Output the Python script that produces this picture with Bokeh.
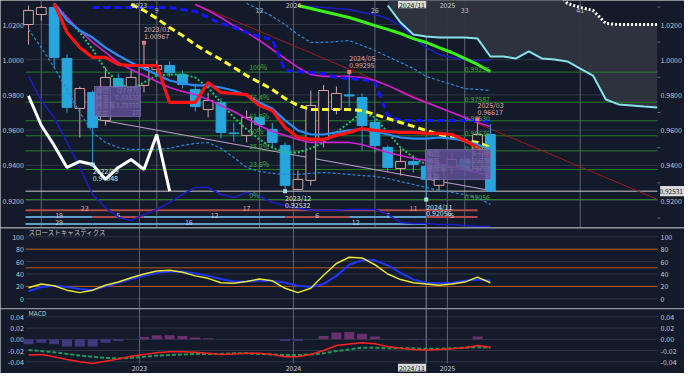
from bokeh.plotting import figure
from bokeh.layouts import column
from bokeh.models import Range1d, BoxAnnotation
from bokeh.core.properties import value
from bokeh.embed import file_html
from bokeh.resources import INLINE

# ---------------- data ----------------
months = ["2022/04", "2022/05", "2022/06", "2022/07", "2022/08", "2022/09", "2022/10", "2022/11", "2022/12",
          "2023/01", "2023/02", "2023/03", "2023/04", "2023/05", "2023/06", "2023/07", "2023/08", "2023/09",
          "2023/10", "2023/11", "2023/12", "2024/01", "2024/02", "2024/03", "2024/04", "2024/05", "2024/06",
          "2024/07", "2024/08", "2024/09", "2024/10", "2024/11", "2024/12", "2025/01", "2025/02", "2025/03",
          "2025/04"]
future_months = ["2025/05", "2025/06", "2025/07", "2025/08", "2025/09", "2025/10", "2025/11", "2025/12",
                 "2026/01", "2026/02", "2026/03", "2026/04", "2026/05"]

opens = [1.0200, 1.0257, 1.0297, 1.0007, 0.9723, 0.9814, 0.9655, 0.9893, 0.9842, 0.9854, 0.9944, 0.9967,
         0.9916, 0.9831, 0.9717, 0.9757, 0.9584, 0.9570, 0.9672, 0.9604, 0.9513, 0.9263, 0.9314, 0.9547,
         0.9717, 0.9800, 0.9785, 0.9643, 0.9501, 0.9382, 0.9422, 0.9393, 0.9286, 0.9388, 0.9433, 0.9382,
         0.9575]
highs = [1.0308, 1.0308, 1.0308, 1.0030, 0.9848, 0.9825, 0.9956, 0.9922, 0.9939, 1.00967, 0.9996, 0.9990,
         0.9939, 0.9865, 0.9814, 0.9780, 0.9643, 0.9712, 0.9689, 0.9640, 0.9530, 0.9371, 0.9825, 0.9856,
         0.9848, 0.99295, 0.9808, 0.9666, 0.9513, 0.9496, 0.9456, 0.9428, 0.9405, 0.9473, 0.9456, 0.96617,
         0.9634]
lows = [1.0086, 1.0223, 0.9950, 0.9700, 0.9558, 0.94048, 0.9626, 0.9808, 0.9797, 0.9814, 0.9905, 0.9905,
        0.9836, 0.9706, 0.9672, 0.9552, 0.9535, 0.9530, 0.9598, 0.9496, 0.92532, 0.9257, 0.9286, 0.9501,
        0.9689, 0.9734, 0.9484, 0.9473, 0.9359, 0.9342, 0.9359, 0.92056, 0.9257, 0.9348, 0.9342, 0.9359,
        0.9251]
closes = [1.0280, 1.0297, 1.0013, 0.9729, 0.9836, 0.9615, 0.9899, 0.9842, 0.9899, 0.9956, 0.9967, 0.9927,
          0.9859, 0.9734, 0.9768, 0.9587, 0.9580, 0.9672, 0.9632, 0.9530, 0.9286, 0.9320, 0.9740, 0.9825,
          0.9808, 0.9794, 0.9626, 0.9513, 0.9388, 0.9422, 0.9405, 0.9320, 0.9388, 0.9433, 0.9376, 0.9575,
          0.92531]
last_price = 0.92531
chikou_shift = 25

red_start, red_line = "2022/06", [1.0320, 1.0155, 1.0069, 1.0013, 1.0013, 0.9973, 0.9967, 0.9967, 0.9967,
                                  0.9757, 0.9757, 0.9757, 0.9871, 0.9814, 0.9808, 0.9802, 0.9740, 0.9712,
                                  0.9615, 0.9558, 0.9547, 0.9547, 0.9570, 0.9587, 0.9609, 0.9598, 0.9592,
                                  0.9587, 0.9587, 0.9581, 0.9581, 0.9575, 0.9541, 0.9501, 0.9445]
blue_start, blue_line = "2022/06", [1.0320, 1.0223, 1.0166, 1.0126, 1.0069, 1.0024, 0.9984, 0.9950, 0.9916,
                                    0.9882, 0.9865, 0.9854, 0.9854, 0.9842, 0.9825, 0.9797, 0.9757, 0.9723,
                                    0.9655, 0.9598, 0.9575, 0.9575, 0.9587, 0.9598, 0.9604, 0.9592, 0.9575,
                                    0.9558, 0.9552, 0.9552, 0.9558, 0.9552, 0.9541, 0.9518, 0.9490]
mag_start, mag_line = "2022/06", [1.0320, 1.0240, 1.0166, 1.0098, 1.0041, 0.9984, 0.9944, 0.9910, 0.9876,
                                  0.9842, 0.9819, 0.9802, 0.9774, 0.9740, 0.9706, 0.9666, 0.9626, 0.9592,
                                  0.9570, 0.9547, 0.9530, 0.9530, 0.9530, 0.9530, 0.9518, 0.9496, 0.9473,
                                  0.9456, 0.9439, 0.9428, 0.9411, 0.9393, 0.9376, 0.9359, 0.9342]
mag2_start, mag2_line = "2023/05", [1.0314, 1.0280, 1.0240, 1.0194, 1.0155, 1.0109, 1.0058, 1.0007, 0.9956,
                                    0.9916, 0.9905, 0.9905, 0.9905, 0.9899, 0.9882, 0.9854, 0.9819, 0.9785,
                                    0.9757, 0.9729, 0.9700, 0.9672, 0.9643, 0.9621]
yel_start, yel_line = "2022/12", [1.0314, 1.0280, 1.0234, 1.0183, 1.0138, 1.0086, 1.0041, 1.0001, 0.9956,
                                  0.9910, 0.9871, 0.9831, 0.9780, 0.9740, 0.9717, 0.9717, 0.9717, 0.9717,
                                  0.9712, 0.9689, 0.9666, 0.9643, 0.9621, 0.9598, 0.9575, 0.9558, 0.9541,
                                  0.9530, 0.9501]
bdash_start, bdash_line = "2022/09", [1.0297, 1.0297, 1.0297, 1.0297, 1.0297, 1.0297, 1.0297, 1.0285, 1.0274,
                                      1.0240, 1.0206, 1.0183, 1.0155, 1.0132, 1.0115, 0.9939, 0.9933, 0.9927,
                                      0.9922, 0.9899, 0.9893, 0.9888, 0.9871, 0.9683, 0.9655, 0.9655, 0.9655,
                                      0.9655, 0.9655, 0.9655, 0.9655, 0.9649]
navy_low_start, navy_low = "2022/04", [0.9905, 0.9768, 0.9672, 0.9530, 0.9388, 0.9234, 0.9160, 0.9104, 0.9087,
                                       0.9121, 0.9149, 0.9189, 0.9234, 0.9274, 0.9274, 0.9234, 0.9217, 0.9246,
                                       0.9223, 0.9189, 0.9172, 0.9155, 0.9144, 0.9144, 0.9144, 0.9149, 0.9149,
                                       0.9149, 0.9121, 0.9075, 0.9070, 0.9070, 0.9064, 0.9064, 0.9058, 0.9052,
                                       0.9052]
navy_up_start, navy_up = "2024/01", [1.0308, 1.0302, 1.0297, 1.0291, 1.0285, 1.0268, 1.0257, 1.0234, 1.0194,
                                     1.0126, 1.0069, 1.0030, 1.0013, 1.0001, 0.9996, 0.9996]
lbl_low_start, lbl_low = "2022/04", [1.0172, 1.0069, 0.9956, 0.9831, 0.9700, 0.9587, 0.9530, 0.9501, 0.9490,
                                     0.9490, 0.9490, 0.9496, 0.9513, 0.9524, 0.9530, 0.9496, 0.9445, 0.9388,
                                     0.9365, 0.9354, 0.9348, 0.9348, 0.9354, 0.9359, 0.9354, 0.9348, 0.9342,
                                     0.9337, 0.9325, 0.9308, 0.9291, 0.9274, 0.9257, 0.9246, 0.9234, 0.9217,
                                     0.9178]
lbl_up_start, lbl_up = "2023/09", [1.0320, 1.0285, 1.0246, 1.0200, 1.0143, 1.0098, 1.0098, 1.0103, 1.0109,
                                   1.0081, 1.0052, 1.0018, 0.9984, 0.9950, 0.9905, 0.9882, 0.9859, 0.9836,
                                   0.9831, 0.9825]
gdot_start, gdot_line = "2022/06", [1.0320, 1.0240, 1.0155, 1.0058, 0.9944, 0.9871, 0.9831, 0.9871, 0.9910,
                                    0.9916, 0.9916, 0.9899, 0.9842, 0.9757, 0.9672, 0.9604, 0.9547, 0.9501,
                                    0.9473, 0.9473, 0.9496, 0.9530, 0.9587, 0.9643, 0.9700, 0.9672, 0.9587,
                                    0.9501, 0.9445, 0.9405, 0.9388, 0.9388, 0.9405, 0.9416, 0.9416]
lime_start, lime_line = "2024/01", [1.0308, 1.0291, 1.0274, 1.0257, 1.0240, 1.0217, 1.0194, 1.0172, 1.0149,
                                    1.0120, 1.0098, 1.0069, 1.0041, 1.0007, 0.9973, 0.9933]
span_start = "2024/08"
span_a = [1.0308, 1.0211, 1.0143, 1.0132, 1.0126, 1.0126, 1.0126, 1.0120, 1.0018, 1.0018, 1.0007, 1.0047,
          1.0007, 1.0001, 0.9990, 0.9950, 0.9910, 0.9774, 0.9746, 0.9740, 0.9734, 0.9729]
span_b = [1.0400, 1.0400, 1.0400, 1.0400, 1.0400, 1.0400, 1.0400, 1.0400, 1.0400, 1.0400, 1.0400, 1.0400,
          1.0400, 1.0400, 1.0320, 1.0297, 1.0280, 1.0206, 1.0200, 1.0200, 1.0200, 1.0200]

trend_red_months, trend_red = ["2023/05", "2026/05"], [1.0316, 0.9207]
trend_lav_months, trend_lav = ["2022/09", "2025/04"], [0.96659, 0.92568]

fib_levels = [0.99295, 0.97587, 0.96530, 0.95676, 0.94821, 0.93764, 0.92056]
fib_pcts = ["100%", "76.4%", "61.8%", "50%", "38.2%", "23.6%", "0%"]
fib_vals = ["0.99295", "0.97587", "0.96530", "0.95676", "0.94821", "0.93764", "0.92056"]

high_marks = ["2023/01", "2024/05", "2025/03"]
low_marks = ["2022/09", "2023/12", "2024/11"]
swing_seq = ["2022/09", "2023/01", "2023/12", "2024/05", "2024/11", "2025/03"]
high_counts = ["23", "17", "11"]
swing_counts = ["19", "5", "12", "6", "7", "5"]
low_counts = ["29", "16", "12"]

year_starts, year_labels = ["2023/01", "2024/01", "2025/01"], ["2023", "2024", "2025"]
count_months = ["2022/05", "2023/02", "2023/10", "2024/07", "2025/02", "2025/11"]
count_labels = ["", "9", "12", "26", "33", "41"]
focus_month = "2024/11"

box1_rows = [("期間", "27ヶ月"), ("騰落", "0.03532"), ("騰落率", "3.78933"), ("本数", "27")]
box2_rows = [("期間", "6ヶ月"), ("騰落", "0.00678"), ("騰落率", "0.73273"), ("本数", "6")]

stoch_k = [18, 24, 21, 14, 10, 14, 22, 27, 34, 40, 45, 46, 43, 37, 33, 26, 25, 28, 32, 29, 17, 10, 17, 38,
           57, 67, 66, 55, 40, 31, 26, 24, 22, 24, 27, 35, 26]
stoch_d = [12, 19, 21, 19, 16, 14, 20, 26, 32, 37, 42, 44, 44, 41, 37, 32, 28, 28, 29, 29, 26, 21, 19, 24,
           37, 55, 62, 62, 54, 42, 31, 26, 25, 26, 29, 31, 29]
macd = [-0.028, -0.027, -0.031, -0.036, -0.040, -0.043, -0.039, -0.035, -0.030, -0.027, -0.024, -0.022,
        -0.022, -0.023, -0.025, -0.027, -0.026, -0.025, -0.025, -0.027, -0.031, -0.031, -0.027, -0.020,
        -0.011, -0.0085, -0.006, -0.008, -0.013, -0.016, -0.018, -0.019, -0.018, -0.017, -0.015, -0.011,
        -0.014]
signal = [-0.019, -0.021, -0.023, -0.026, -0.029, -0.031, -0.033, -0.034, -0.033, -0.031, -0.029, -0.028,
          -0.027, -0.026, -0.026, -0.026, -0.025, -0.025, -0.026, -0.027, -0.028, -0.028, -0.027, -0.025,
          -0.021, -0.018, -0.015, -0.015, -0.016, -0.016, -0.016, -0.017, -0.017, -0.016, -0.015, -0.014,
          -0.015]
hist = [-0.009, -0.006, -0.009, -0.013, -0.013, -0.013, -0.006, -0.003, 0.0, 0.004, 0.007, 0.007, 0.006,
        0.003, 0.002, 0.0, 0.0, 0.0, 0.0, 0.0, -0.003, -0.003, 0.0, 0.006, 0.012, 0.013, 0.010, 0.005, 0.0,
        0.0, -0.001, -0.001, 0.0, 0.0, 0.0, 0.005, 0.0]

price_ticks = [0.92, 0.94, 0.96, 0.98, 1.00, 1.02]
price_minor = [0.91, 0.93, 0.95, 0.97, 0.99, 1.01, 1.03]
stoch_ticks = [0, 20, 40, 60, 80, 100]
stoch_levels = [20, 50, 80]
macd_ticks = [-0.04, -0.02, 0.0, 0.02, 0.04]

# ---------------- style / layout ----------------
FONT = "Noto Sans CJK JP"
BG = "#131a29"
GRID = "#2e3646"
TXT = "#c5c9d1"
VLINE = "#5c6370"
BULL = "#d6a2a2"
BEAR = "#27a6de"

all_months = months + future_months
pos = {m: i for i, m in enumerate(all_months)}


def xs(start, vals):
    return [pos[start] + k for k in range(len(vals))]


XR = Range1d(-2.182, 51.13)     # whole figure width, month units
X_LO, X_HI = -0.23, 49.03       # plotting area
X_LAB_L, X_LAB_R = -0.36, 49.26  # axis label anchors
YEAR_OFF = -0.35


def mk_fig(h, y0, y1):
    f = figure(width=684, height=h, x_range=XR, y_range=Range1d(y0, y1), output_backend="svg",
               toolbar_location=None, min_border=0, background_fill_color=BG, border_fill_color=BG,
               outline_line_color=None, x_axis_location=None, y_axis_location=None)
    f.xgrid.visible = False
    f.ygrid.visible = False
    return f


def txt(f, x, y, t, color, size="7px", align="left", baseline="middle"):
    f.text(x=x, y=y, text=t, text_font=value(FONT), text_font_size=size, text_color=color,
           text_align=align, text_baseline=baseline)


def hlines(f, ys, color, width=1.0, x0=X_LO, x1=X_HI):
    f.segment(x0=[x0] * len(ys), x1=[x1] * len(ys), y0=ys, y1=ys, line_color=color, line_width=width)


def vlines(f, xv, y0, y1, color, width=1.0):
    f.segment(x0=xv, x1=xv, y0=[y0] * len(xv), y1=[y1] * len(xv), line_color=color, line_width=width)


def axis_labels(f, ticks, fmt):
    labs = [fmt % t for t in ticks]
    txt(f, [X_LAB_L] * len(ticks), ticks, labs, TXT, align="right")
    txt(f, [X_LAB_R] * len(ticks), ticks, labs, TXT, align="left")


def panel_vlines(f, y0, y1):
    vlines(f, [pos[m] + YEAR_OFF for m in year_starts], y0, y1, VLINE)
    vlines(f, [pos[focus_month]], y0, y1, "#7d8492")


def tag(f, x0, x1, y0, y1, text, align, tx, size="7px"):
    f.quad(left=[x0], right=[x1], bottom=[y0], top=[y1], fill_color="#d8d8d8", line_color=None)
    txt(f, [tx], [(y0 + y1) / 2], [text], "#1d1d1d", size=size, align=align)


# ---------------- main panel ----------------
MY0, MY1 = 0.90466, 1.03364
p1 = mk_fig(227, MY0, MY1)
hlines(p1, price_ticks, GRID)
panel_vlines(p1, MY0, MY1)
vlines(p1, [pos[m] for m in count_months], MY0, MY1, VLINE)
axis_labels(p1, price_ticks, "%.4f")
p1.segment(x0=[X_HI] * len(price_minor), x1=[X_HI + 0.2] * len(price_minor), y0=price_minor,
           y1=price_minor, line_color="#6d7380")

# cloud
cx = xs(span_start, span_a)
p1.varea(x=cx, y1=span_a, y2=span_b, fill_color="#2f343f", fill_alpha=0.95)

# fibonacci + price line
hlines(p1, fib_levels, "#2a7d2a")
hlines(p1, [last_price], "#c8c8c8")

# trend lines
p1.line([pos[m] for m in trend_red_months], trend_red, line_color="#9a1c1c", line_width=1)
p1.line([pos[m] for m in trend_lav_months], trend_lav, line_color="#c3a0cc", line_width=1)

# count rows
hi_pts = [pos[m] for m in high_marks]
lo_pts = [pos[m] for m in low_marks]
sw_pts = [pos[m] for m in swing_seq]
row_y = [0.9145, 0.9106, 0.9066]
RED_ROW, BLUE_ROW = "#b04a4a", "#5f9cc6"
segs = []
b = [X_LO] + hi_pts
for i, lab in enumerate(high_counts):
    segs.append((b[i], b[i + 1], row_y[0], RED_ROW, lab, "#d9a0a0"))
b = [X_LO] + sw_pts
for i, lab in enumerate(swing_counts):
    segs.append((b[i], b[i + 1], row_y[1], BLUE_ROW if i % 2 == 0 else RED_ROW, lab, "#c9c9d6"))
b = [X_LO] + lo_pts
for i, lab in enumerate(low_counts):
    segs.append((b[i], b[i + 1], row_y[2], BLUE_ROW, lab, "#b9cbe0"))
p1.segment(x0=[s[0] for s in segs], x1=[s[1] for s in segs], y0=[s[2] for s in segs],
           y1=[s[2] for s in segs], line_color=[s[3] for s in segs], line_width=2)
txt(p1, [(s[0] + s[1]) / 2 for s in segs], [s[2] + 0.0011 for s in segs], [s[4] for s in segs],
    [s[5] for s in segs], align="center")

# candles
idx = list(range(len(months)))
bull = [c >= o for o, c in zip(opens, closes)]
ccol = [BULL if bu else BEAR for bu in bull]
cfill = [BG if bu else BEAR for bu in bull]
p1.segment(x0=idx, x1=idx, y0=lows, y1=highs, line_color=ccol, line_width=1)
p1.vbar(x=idx, top=[max(o, c) for o, c in zip(opens, closes)],
        bottom=[min(o, c) for o, c in zip(opens, closes)], width=0.76,
        fill_color=cfill, line_color=ccol, line_width=1)

# indicator lines
p1.line(xs(navy_low_start, navy_low), navy_low, line_color="#1c1cc8", line_width=1.5)
p1.line(xs(navy_up_start, navy_up), navy_up, line_color="#1c1cc8", line_width=1.5)
p1.line(xs(lbl_low_start, lbl_low), lbl_low, line_color="#2f86d6", line_width=1.2, line_dash="3 2")
p1.line(xs(lbl_up_start, lbl_up), lbl_up, line_color="#2f86d6", line_width=1.2, line_dash="3 2")
p1.line(xs(span_start, span_b), span_b, line_color="#ffffff", line_width=3, line_dash="2 2")
p1.line(cx, span_a, line_color="#86e3ea", line_width=2)
p1.line(xs(gdot_start, gdot_line), gdot_line, line_color="#22c466", line_width=2, line_dash="2 2")
p1.line(xs(mag2_start, mag2_line), mag2_line, line_color="#d21ed2", line_width=1.6)
p1.line(xs(mag_start, mag_line), mag_line, line_color="#d21ed2", line_width=1.6)
p1.line(xs(lime_start, lime_line), lime_line, line_color="#3cf01a", line_width=3)
p1.line(xs(bdash_start, bdash_line), bdash_line, line_color="#1414ff", line_width=3, line_dash="7 4")
p1.line(xs(yel_start, yel_line), yel_line, line_color="#ffff2e", line_width=3, line_dash="7 4")
p1.line(xs(blue_start, blue_line), blue_line, line_color="#2a8cf5", line_width=2.2)
p1.line(xs(red_start, red_line), red_line, line_color="#ff1414", line_width=3.2)
chik_x = idx[:len(months) - chikou_shift]
p1.line(chik_x, closes[chikou_shift:], line_color="#ffffff", line_width=3)

# fib labels
txt(p1, [17.2] * len(fib_levels), fib_levels, fib_pcts, "#3fae3f", baseline="bottom")
txt(p1, [34.0] * len(fib_levels), fib_levels, fib_vals, "#3fae3f", baseline="bottom")

# high / low markers
hx = [pos[m] for m in high_marks]
hy = [highs[pos[m]] for m in high_marks]
p1.scatter(hx, hy, marker="square", size=4, fill_color="#e07a7a", line_color=None)
txt(p1, hx, [y + 0.0040 for y in hy], [f"{v:.5f}" for v in hy], "#e6a8a8")
txt(p1, hx, [y + 0.0080 for y in hy], high_marks, "#e6a8a8")
lx = [pos[m] for m in low_marks]
ly = [lows[pos[m]] for m in low_marks]
p1.scatter(lx, ly, marker="square", size=4, fill_color="#a8e2f2", line_color=None)
txt(p1, lx, [y - 0.0040 for y in ly], low_marks, "#d2e6ee")
txt(p1, lx, [y - 0.0078 for y in ly], [f"{v:.5f}" for v in ly], "#d2e6ee")


# info boxes
def info_box(f, x0, x1, top, bottom, rows):
    f.add_layout(BoxAnnotation(left=x0, right=x1, top=top, bottom=bottom, fill_color="#5f5096",
                               fill_alpha=0.85, line_color="#8a7cc0", line_alpha=0.6))
    step = (top - bottom) / len(rows)
    ys = [top - step * (k + 0.5) for k in range(len(rows))]
    txt(f, [x0 + 0.1] * len(rows), ys, [r[0] for r in rows], "#f2f2f2", size="6.5px")
    txt(f, [x1 - 0.1] * len(rows), ys, [r[1] for r in rows], "#f2f2f2", size="6.5px", align="right")


info_box(p1, pos["2022/09"] + 0.14, pos["2023/01"] - 0.27, 0.9848, 0.9677, box1_rows)
info_box(p1, pos["2024/11"] - 0.06, pos["2025/04"] + 0.02, 0.9490, 0.9319, box2_rows)

# top labels
txt(p1, [pos[m] + YEAR_OFF for m in year_starts], [1.0310] * 3, year_labels, TXT, align="center")
txt(p1, [pos[m] for m in count_months], [1.0285] * len(count_months), count_labels, "#b9bdc6",
    align="center")
tag(p1, pos[focus_month] - 2.2, pos[focus_month], 1.0292, MY1 - 0.0003, focus_month, "right",
    pos[focus_month] - 0.1)
tag(p1, X_HI + 0.2, XR.end - 0.02, last_price - 0.0029, last_price + 0.0029, f"{last_price:.5f}",
    "right", XR.end - 0.12, size="6.5px")

# ---------------- stochastics ----------------
SY0, SY1 = -15.6, 115.0
p2 = mk_fig(81, SY0, SY1)
hlines(p2, stoch_ticks, GRID)
hlines(p2, stoch_levels, "#b25a1c")
panel_vlines(p2, SY0, SY1)
hlines(p2, [114.4], "#9aa0aa", 1.2, XR.start, XR.end)
axis_labels(p2, stoch_ticks, "%d")
p2.line(idx, stoch_d, line_color="#1f35ff", line_width=2)
p2.line(idx, stoch_k, line_color="#e8e835", line_width=1.5)
txt(p2, [0.0], [107], ["スローストキャスティクス"], TXT, size="6.5px")

# ---------------- MACD ----------------
DY0, DY1 = -0.0608, 0.05476
D_BOT = -0.0430
p3 = mk_fig(65, DY0, DY1)
hlines(p3, macd_ticks, GRID)
panel_vlines(p3, D_BOT, DY1)
hlines(p3, [0.0543], "#9aa0aa", 1.2, XR.start, XR.end)
axis_labels(p3, macd_ticks, "%.2f")
p3.vbar(x=idx, top=hist, bottom=0, width=0.78,
        fill_color=["#6a2f6e" if h >= 0 else "#3e3a80" for h in hist], line_color=None)
p3.line(idx, signal, line_color="#1f9a5a", line_width=2, line_dash="4 2")
p3.line(idx, macd, line_color="#ff2020", line_width=1.5)
txt(p3, [0.0], [0.0475], ["MACD"], TXT, size="6.5px")
txt(p3, [pos[m] + YEAR_OFF for m in year_starts], [-0.0503] * 3, year_labels, TXT, align="center")
tag(p3, pos[focus_month] - 2.2, pos[focus_month], -0.0572, -0.0434, focus_month, "right",
    pos[focus_month] - 0.1)

layout = column(p1, p2, p3, spacing=0)
open("out.html", "w").write(file_html(layout, INLINE))
